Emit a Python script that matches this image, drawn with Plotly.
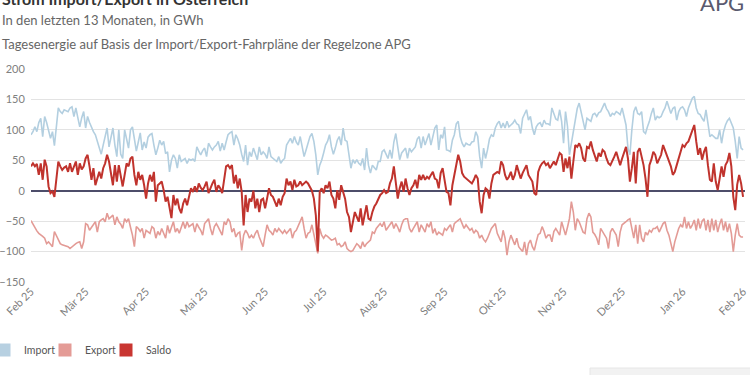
import pandas as pd
import plotly.graph_objects as go

start_date = "2025-02-01"

import_vals = [
    92, 97, 105, 97, 112, 119, 89, 122, 112, 100,
    86, 97, 74, 105, 136, 130, 127, 133, 131, 130,
    136, 138, 122, 136, 120, 105, 120, 130, 103, 122,
    112, 103, 97, 92, 81, 72, 60, 75, 90, 103,
    72, 90, 103, 75, 56, 100, 60, 53, 100, 85,
    70, 100, 105, 85, 65, 80, 95, 67, 80, 70,
    88, 92, 94, 75, 59, 70, 83, 75, 81, 61,
    64, 31, 50, 59, 53, 37, 59, 48, 50, 53,
    45, 52, 50, 52, 48, 72, 65, 59, 66, 70,
    56, 78, 72, 67, 72, 75, 81, 65, 78, 67,
    80, 92, 95, 97, 75, 92, 85, 75, 60, 48,
    75, 42, 64, 56, 70, 60, 51, 72, 59, 64,
    60, 53, 72, 56, 53, 50, 48, 56, 45, 50,
    53, 75, 81, 86, 78, 89, 80, 75, 89, 70,
    56, 67, 80, 89, 94, 81, 59, 26, 42, 50,
    62, 75, 81, 92, 72, 60, 70, 83, 89, 75,
    103, 83, 81, 60, 37, 51, 45, 51, 45, 42,
    53, 34, 70, 42, 29, 42, 38, 34, 48, 48,
    64, 67, 60, 53, 67, 53, 80, 94, 72, 51,
    62, 66, 70, 53, 70, 64, 68, 72, 85, 89,
    70, 89, 75, 85, 94, 75, 92, 103, 108, 67,
    92, 86, 105, 67, 66, 64, 83, 92, 110, 114,
    89, 78, 72, 78, 76, 75, 80, 81, 97, 89,
    56, 37, 70, 53, 67, 85, 92, 89, 103, 110,
    114, 103, 111, 103, 114, 105, 108, 111, 116, 110,
    108, 94, 119, 126, 133, 116, 122, 103, 92, 105,
    110, 112, 105, 116, 110, 110, 108, 136, 125, 118,
    116, 133, 114, 78, 130, 106, 59, 78, 97, 114,
    135, 144, 130, 119, 100, 119, 116, 114, 125, 127,
    122, 128, 130, 136, 144, 135, 130, 122, 127, 125,
    130, 128, 125, 136, 122, 108, 70, 59, 100, 130,
    138, 127, 125, 130, 97, 94, 105, 114, 127, 136,
    116, 122, 120, 122, 130, 136, 147, 136, 127, 135,
    138, 116, 130, 136, 138, 133, 122, 136, 145, 152,
    155, 136, 127, 125, 119, 114, 133, 111, 89, 92,
    89, 86, 86, 100, 78, 97, 108, 115, 119, 110,
    103, 81, 53, 89, 70, 67,
]

export_vals = [
    -49, -55, -62, -66, -70, -72, -75, -78, -87, -84,
    -88, -92, -67, -73, -81, -87, -89, -90, -92, -92,
    -95, -92, -90, -87, -85, -84, -95, -84, -54, -56,
    -65, -60, -55, -51, -68, -51, -48, -46, -51, -37,
    -46, -43, -40, -56, -43, -51, -55, -62, -46, -51,
    -46, -60, -73, -92, -59, -62, -67, -62, -78, -65,
    -68, -70, -59, -62, -78, -67, -73, -62, -70, -78,
    -57, -70, -60, -51, -68, -62, -70, -60, -51, -62,
    -51, -59, -56, -54, -68, -54, -60, -65, -73, -54,
    -50, -46, -62, -73, -59, -54, -60, -68, -73, -51,
    -56, -46, -51, -68, -62, -76, -70, -68, -98, -73,
    -65, -70, -78, -73, -78, -70, -65, -76, -85, -92,
    -73, -56, -65, -68, -73, -62, -68, -62, -66, -70,
    -65, -70, -66, -62, -78, -68, -65, -58, -51, -43,
    -62, -78, -70, -68, -56, -73, -89, -103, -62, -73,
    -78, -73, -75, -78, -81, -80, -78, -89, -87, -92,
    -90, -84, -95, -98, -100, -98, -92, -87, -90, -95,
    -84, -92, -87, -84, -81, -68, -70, -62, -58, -54,
    -59, -51, -65, -60, -56, -51, -62, -54, -60, -68,
    -56, -48, -46, -46, -62, -68, -62, -56, -51, -68,
    -56, -62, -68, -54, -60, -51, -70, -62, -73, -68,
    -70, -73, -62, -65, -60, -56, -68, -54, -51, -48,
    -46, -54, -62, -56, -60, -65, -62, -70, -65, -68,
    -78, -73, -80, -84, -78, -68, -62, -58, -54, -70,
    -77, -84, -65, -78, -106, -84, -73, -80, -89, -78,
    -92, -96, -100, -84, -106, -87, -81, -92, -98, -84,
    -72, -70, -59, -67, -78, -73, -73, -84, -67, -62,
    -68, -73, -51, -62, -73, -60, -46, -18, -35, -65,
    -46, -51, -60, -68, -70, -46, -37, -43, -68, -72,
    -78, -89, -62, -68, -72, -78, -95, -68, -62, -68,
    -73, -92, -68, -56, -54, -51, -48, -46, -62, -78,
    -56, -87, -56, -78, -84, -68, -73, -65, -68, -62,
    -62, -59, -68, -60, -54, -51, -65, -73, -87, -100,
    -84, -73, -62, -56, -60, -43, -62, -51, -62, -56,
    -48, -65, -46, -62, -50, -46, -65, -48, -68, -46,
    -65, -48, -68, -55, -46, -65, -51, -68, -54, -70,
    -100, -73, -54, -73, -76, -76,
]

saldo_vals = [
    40, 45, 40, 44, 26, 45, 18, 51, 40, 7,
    -4, -1, -10, 18, 48, 40, 34, 38, 40, 31,
    45, 31, 40, 48, 26, 45, 35, 40, 53, 59,
    40, 18, 37, 9, 20, 31, 20, 37, 45, 59,
    48, 30, 9, 42, 15, 42, 25, 7, 26, 45,
    40, 53, 56, 26, 9, 31, 18, 26, 9, -13,
    12, 26, 15, 31, -18, 9, 12, 15, 1, -18,
    -10, -29, -45, -7, -24, -13, -29, -37, -21, -13,
    -24, -10, 4, -2, 7, -2, 12, 5, 1, 7,
    15, -4, 5, 12, 18, -2, 9, 4, -4, 18,
    40, 42, 37, 42, 12, 26, 4, 20, -2, -57,
    -7, -35, -13, -18, 0, -29, -13, -35, -15, -13,
    -29, -13, 4, -7, -10, -18, -26, -13, -24, -10,
    -4, 20, 9, 15, 1, 18, 7, 9, 15, 9,
    12, 15, 12, 7, 0, -13, -40, -100, -2, 4,
    -4, 9, 4, 15, -7, -13, -29, 1, -15, 9,
    -2, -13, -35, -43, -68, -51, -35, -43, -51, -29,
    -57, -40, -24, -46, -48, -35, -26, -21, -15, -7,
    -4, 1, -4, -2, 12, 20, 40, 15, -13, 4,
    15, -2, 20, 4, -7, 4, 9, 18, 4, 26,
    18, 26, 18, 23, 20, 26, 31, 20, 18, 4,
    29, 37, 20, -2, -4, -24, 9, 26, 45, 59,
    48, 29, 23, 20, 18, 15, 12, 18, 26, 20,
    -18, -37, -7, 4, 1, -13, 12, 26, 29, 31,
    29, 48, 42, 26, 18, 23, 31, 18, 26, 42,
    31, 20, 29, 37, 42, 26, 20, 15, -4, -7,
    31, 40, 45, 48, 42, 45, 37, 42, 48, 42,
    53, 62, 59, 31, 53, 37, 56, 20, 48, 75,
    72, 78, 70, 53, 48, 72, 70, 81, 67, 59,
    48, 62, 56, 67, 64, 53, 45, 42, 48, 56,
    64, 53, 42, 53, 62, 72, 53, 15, 37, 64,
    12, 64, 70, 56, 42, 20, -10, 42, 51, 64,
    59, 45, 53, 59, 75, 67, 59, 48, 40, 26,
    31, 42, 53, 67, 75, 72, 78, 81, 89, 100,
    108, 81, 59, 70, 51, 64, 72, 42, 18, 15,
    45, 15, 1, 20, 40, 23, 42, 48, 62, 40,
    -10, -32, 10, 26, 12, -10,
]

month_ticks = ["2025-02-01", "2025-03-01", "2025-04-01", "2025-05-01", "2025-06-01",
               "2025-07-01", "2025-08-01", "2025-09-01", "2025-10-01", "2025-11-01",
               "2025-12-01", "2026-01-01", "2026-02-01"]
month_labels = ["Feb 25", "Mär 25", "Apr 25", "Mai 25", "Jun 25", "Jul 25", "Aug 25",
                "Sep 25", "Okt 25", "Nov 25", "Dez 25", "Jan 26", "Feb 26"]
y_ticks = [-150, -100, -50, 0, 50, 100, 150, 200]

series_names = ["Import", "Export", "Saldo"]
series_colors = ["#b3cfe0", "#e39b96", "#c0332d"]
legend_colors = ["#b7d0e1", "#e49b96", "#c93631"]
series_widths = [1.6, 1.6, 2.0]
series_data = [import_vals, export_vals, saldo_vals]

FONT = "Lato, 'Open Sans', sans-serif"

# pixel geometry of the plot area (figure is 750 x 375)
PL, PR, PT, PB = 31, 745, 69, 282


def px_x(px):
    return (px - PL) / (PR - PL)


def px_y(py):
    return (PB - py) / (PB - PT)


fig = go.Figure()
for name, vals, col, w in zip(series_names, series_data, series_colors, series_widths):
    dates = pd.date_range(start_date, periods=len(vals), freq="D")
    fig.add_trace(go.Scatter(x=dates, y=vals, mode="lines", name=name,
                             line=dict(color=col, width=w), showlegend=False,
                             hoverinfo="skip"))

legend_ids = ["legend", "legend2", "legend3"]
legend_square_x = [4, 65, 126]  # square centres in page pixels
for name, col, lid in zip(series_names, legend_colors, legend_ids):
    fig.add_trace(go.Scatter(x=[None], y=[None], mode="markers", name=name,
                             marker=dict(symbol="square", size=13, color=col),
                             showlegend=True, legend=lid))

legend_layout = {}
for lid, sx in zip(legend_ids, legend_square_x):
    legend_layout[lid] = dict(orientation="h", x=px_x(sx - 20), y=px_y(350),
                              xanchor="left", yanchor="middle",
                              font=dict(size=10.5, color="#555555"),
                              bgcolor="rgba(0,0,0,0)", itemclick=False)

fig.update_layout(
    width=750, height=375,
    margin=dict(l=PL, r=750 - PR, t=PT, b=375 - PB, autoexpand=False),
    paper_bgcolor="white", plot_bgcolor="white",
    font=dict(family=FONT, color="#666666", size=11),
    xaxis=dict(type="date", range=["2025-02-01", "2026-02-02"], automargin=False,
               tickvals=month_ticks, ticktext=month_labels, tickangle=-45,
               showgrid=False, zeroline=False, showline=False,
               tickfont=dict(size=11, color="#808080")),
    yaxis=dict(range=[-150, 200], tickvals=y_ticks, showgrid=True, automargin=False,
               gridcolor="#e3e3e3", gridwidth=1, zeroline=True,
               zerolinecolor="#4d4d6a", zerolinewidth=2, showline=False,
               ticks="outside", ticklen=3, tickcolor="rgba(0,0,0,0)",
               tickfont=dict(size=11, color="#808080")),
    annotations=[
        dict(text="<b>Strom Import/Export in Österreich</b>", xref="paper", yref="paper",
             x=px_x(0), y=px_y(10), xanchor="left", yanchor="bottom", showarrow=False,
             font=dict(size=16, color="#333333", family=FONT)),
        dict(text="In den letzten 13 Monaten, in GWh", xref="paper", yref="paper",
             x=px_x(0), y=px_y(20), xanchor="left", yanchor="middle", showarrow=False,
             font=dict(size=13, color="#666666", family=FONT)),
        dict(text="Tagesenergie auf Basis der Import/Export-Fahrpläne der Regelzone APG",
             xref="paper", yref="paper",
             x=px_x(0), y=px_y(44), xanchor="left", yanchor="middle", showarrow=False,
             font=dict(size=13, color="#666666", family=FONT)),
        dict(text="APG", xref="paper", yref="paper",
             x=px_x(746), y=px_y(18), xanchor="right", yanchor="bottom",
             showarrow=False, font=dict(size=22, color="#5a5a6e", family=FONT)),
    ],
    shapes=[
        dict(type="rect", xref="paper", yref="paper",
             x0=px_x(590), x1=px_x(760), y0=px_y(385), y1=px_y(368),
             fillcolor="#f2f2f2", line=dict(color="#e6e6e6", width=1), layer="below"),
    ],
    **legend_layout,
)

fig.write_html("out.html", config={"displayModeBar": False},
               post_script="document.body.style.margin='0';document.body.style.overflow='hidden';")
